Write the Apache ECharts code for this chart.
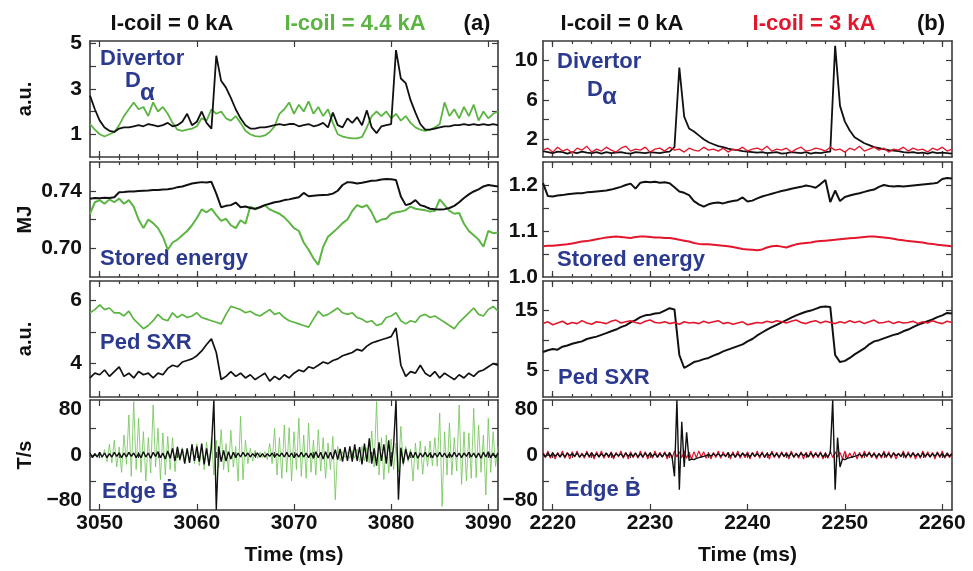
<!DOCTYPE html>
<html>
<head>
<meta charset="utf-8">
<title>I-coil ELM suppression</title>
<script src="https://cdn.jsdelivr.net/npm/echarts@6.0.0/dist/echarts.min.js"></script>
<style>
html, body { margin: 0; padding: 0; background: #fff; }
#chart { width: 973px; height: 571px; }
</style>
</head>
<body>
<div id="chart"></div>
<script>
var GREEN = '#5cb443', LIGHTGREEN = '#6fc454', RED = '#e3162c', BLACK = '#111111', BLUE = '#2b3a8f', FRAME = '#3a3a3a';
var FONT = 'Liberation Sans, Arial, sans-serif';

// sample grids (ms)
var leftStart = 3049, rightStart = 2219;
var coarse = 0.5, fine = 0.25;

// x axes
var leftRange = [3049, 3091], rightRange = [2219, 2261];
var leftTimeTicks = [3050, 3060, 3070, 3080, 3090];
var rightTimeTicks = [2220, 2230, 2240, 2250, 2260];
var leftMinorTicks = [3050, 3052, 3054, 3056, 3058, 3060, 3062, 3064, 3066, 3068, 3070,
  3072, 3074, 3076, 3078, 3080, 3082, 3084, 3086, 3088, 3090];
var rightMinorTicks = [2220, 2222, 2224, 2226, 2228, 2230, 2232, 2234, 2236, 2238, 2240,
  2242, 2244, 2246, 2248, 2250, 2252, 2254, 2256, 2258, 2260];

// y tick labels / ticks
var daLeftLabels = [1, 3, 5], daLeftTicks = [1, 2, 3, 4, 5];
var wLeftLabels = [0.70, 0.74], wLeftTicks = [0.70, 0.72, 0.74];
var sxrLeftLabels = [4, 6], sxrLeftTicks = [4, 5, 6];
var daRightLabels = [2, 6, 10], daRightTicks = [2, 4, 6, 8, 10];
var wRightLabels = [1.0, 1.1, 1.2], wRightTicks = [1.05, 1.1, 1.15, 1.2];
var sxrRightLabels = [5, 15], sxrRightTicks = [5, 10, 15];
var bdotLabelAt = [-68, 0, 68], bdotLabelText = ['\u221280', '0', '80'], bdotTicks = [-40, 0, 40];

// ---- shot (a), 0.5 ms samples from 3049 ms ----
var leftDaBlack = [
  2.7, 2.1, 1.6, 1.3, 1.15, 1.1, 1.25, 1.3, 1.3, 1.35,
  1.4, 1.35, 1.45, 1.4, 1.35, 1.4, 1.5, 1.35, 1.4, 1.55,
  1.9, 1.4, 1.55, 2.0, 1.5, 1.25, 4.45, 3.35, 3.05, 2.6,
  2.1, 1.7, 1.4, 1.25, 1.25, 1.3, 1.3, 1.35, 1.4, 1.45,
  1.4, 1.45, 1.45, 1.35, 1.4, 1.45, 1.35, 1.4, 1.5, 1.3,
  1.95, 1.4, 1.3, 1.7, 1.5, 1.75, 1.4, 2.05, 1.3, 1.05,
  1.35, 1.4, 1.45, 4.7, 3.45, 3.25, 2.5, 1.95, 1.45, 1.2,
  1.2, 1.25, 1.3, 1.35, 1.35, 1.4, 1.4, 1.45, 1.4, 1.45,
  1.4, 1.45, 1.4, 1.45, 1.4
];
var leftDaGreen = [
  1.45, 1.2, 1.0, 0.9, 1.0, 1.1, 1.4, 1.8, 2.1, 2.4,
  2.1, 2.2, 1.8, 2.4, 2.0, 2.2, 1.9, 1.5, 1.2, 1.15,
  1.2, 1.25, 1.35, 1.7, 1.6, 2.1, 1.9, 2.0, 1.7, 1.6,
  1.8, 1.5, 1.15, 1.0, 0.92, 0.9, 0.95, 1.1, 1.35, 1.9,
  2.1, 2.4, 1.9, 2.3, 2.0, 2.45, 1.9, 2.2, 1.8, 2.1,
  1.5, 1.0, 0.9, 0.85, 0.82, 0.82, 0.88, 1.3, 1.8, 2.0,
  1.8, 2.0, 1.7, 1.9, 1.6, 1.8, 1.5, 1.3, 1.2, 1.15,
  1.2, 1.3, 1.45, 2.4, 1.8, 2.1, 1.7, 2.2, 1.8, 2.3,
  1.6, 2.0, 1.7, 1.9, 2.0
];
var leftWBlack = [
  .7345, .7350, .7348, .7352, .7350, .7355, .7390, .7392, .7395, .7395,
  .7398, .7400, .7402, .7405, .7405, .7408, .7410, .7415, .7425, .7430,
  .7440, .7450, .7455, .7460, .7458, .7462, .7380, .7285, .7295, .7300,
  .7318, .7285, .7290, .7280, .7275, .7285, .7300, .7310, .7320, .7325,
  .7335, .7340, .7348, .7355, .7385, .7362, .7365, .7368, .7370, .7372,
  .7380, .7400, .7440, .7460, .7458, .7450, .7455, .7462, .7470, .7472,
  .7478, .7482, .7480, .7475, .7360, .7300, .7310, .7335, .7300, .7290,
  .7275, .7272, .7270, .7272, .7280, .7295, .7320, .7350, .7375, .7395,
  .7410, .7430, .7440, .7435, .7430
];
var leftWGreen = [
  .7240, .7320, .7335, .7310, .7340, .7320, .7345, .7310, .7335, .7290,
  .7200, .7140, .7200, .7175, .7140, .7080, .6990, .7040, .7060, .7090,
  .7120, .7160, .7210, .7270, .7250, .7275, .7230, .7190, .7205, .7160,
  .7140, .7195, .7170, .7290, .7270, .7285, .7300, .7270, .7255, .7240,
  .7215, .7180, .7140, .7120, .7040, .6990, .6930, .6885, .7010, .7080,
  .7110, .7140, .7175, .7200, .7260, .7300, .7285, .7300, .7250, .7180,
  .7200, .7205, .7240, .7250, .7255, .7265, .7290, .7275, .7270, .7265,
  .7255, .7260, .7340, .7300, .7260, .7240, .7245, .7170, .7120, .7090,
  .7060, .7010, .7120, .7105, .7110
];
var leftSxrBlack = [
  3.55, 3.7, 3.65, 3.8, 3.6, 3.75, 3.9, 3.6, 3.7, 3.55,
  3.75, 3.65, 3.7, 3.55, 3.7, 3.65, 3.85, 3.95, 3.9, 4.05,
  4.1, 4.15, 4.25, 4.4, 4.6, 4.78, 4.35, 3.5, 3.6, 3.75,
  3.6, 3.7, 3.55, 3.65, 3.5, 3.6, 3.7, 3.45, 3.6, 3.5,
  3.65, 3.55, 3.7, 3.8, 3.75, 3.9, 3.85, 3.95, 4.05, 4.0,
  4.1, 4.15, 4.25, 4.3, 4.35, 4.45, 4.4, 4.55, 4.65, 4.7,
  4.75, 4.8, 4.85, 5.12, 3.95, 3.6, 3.75, 3.7, 3.95, 3.7,
  3.6, 3.75, 3.55, 3.7, 3.6, 3.5, 3.65, 3.55, 3.7, 3.6,
  3.75, 3.8, 3.9, 4.0, 3.95
];
var leftSxrGreen = [
  5.6, 5.7, 5.85, 5.7, 5.75, 5.6, 5.6, 5.5, 5.65, 5.4,
  5.25, 5.1, 5.2, 5.35, 5.55, 5.4, 5.35, 5.6, 5.45, 5.55,
  5.45, 5.5, 5.6, 5.45, 5.4, 5.35, 5.3, 5.25, 5.55, 5.8,
  5.75, 5.7, 5.6, 5.65, 5.55, 5.5, 5.6, 5.7, 5.55, 5.6,
  5.45, 5.35, 5.3, 5.25, 5.2, 5.15, 5.4, 5.65, 5.5, 5.55,
  5.65, 5.75, 5.6, 5.55, 5.6, 5.45, 5.4, 5.3, 5.35, 5.2,
  5.25, 5.45, 5.5, 5.6, 5.35, 5.25, 5.35, 5.3, 5.5, 5.55,
  5.45, 5.5, 5.4, 5.3, 5.2, 5.1, 5.3, 5.45, 5.6, 5.75,
  5.55, 5.5, 5.7, 5.8, 5.65
];
// 0.25 ms samples from 3049 ms
var leftBdotBlack = [
  3, -4, 2, -3, 4, -3, 3, -4, 2, -3, 4, -2, 3, -4, 3, -3, 4, -2, 3, -4,
  2, -4, 5, -3, 3, -5, 4, -2, 5, -4, 3, -6, 6, -5, 10, -9, 12, -7, 9, -13,
  10, -12, 16, -9, 13, -10, 17, -14, 10, -16, 12, 82, -82, 13, -10, 7, -9, 5, -6, 4,
  -4, 3, -3, 4, -2, 3, -3, 2, -2, 3, -3, 2, -3, 2, -2, 3, -3, 2, -2, 3,
  -3, 4, -3, 3, -4, 2, -3, 4, -3, 3, -4, 3, -5, 5, -4, 4, -6, 5, -5, 4,
  -6, 8, -7, 9, -10, 12, -9, 13, -10, 16, -9, 12, -14, 17, -10, 25, -13, 10, -16, 19,
  -9, 16, -13, 22, -17, 13, 82, -67, 11, -13, 9, -7, 5, -4, 4, -5, 3, -3, 4, -3,
  3, -4, 3, -3, 4, -3, 3, -4, 2, -3, 4, -3, 3, -4, 3, -2, 4, -3, 3, -4,
  3, -5, 4, -3, 5, -4, 3, -4, 3
];
var leftBdotGreen = [
  2, -3, 3, -2, 4, -5, 8, -10, 16, -12, 22, -18, 12, -26, 30, -14, 60, -32, 80, -22,
  55, -26, 35, -39, 26, -27, 75, -18, 40, -37, 33, -30, 28, -22, 26, -25, 13, -9, 11, -7,
  9, -11, 16, -13, 17, -16, 13, -22, 19, -17, 26, -30, 22, -19, 38, -22, 17, -26, 37, -18,
  13, -39, 58, -37, 22, -13, 10, -9, 7, -5, 4, -4, 5, -7, 17, -13, 40, -30, 26, -35,
  45, -26, 41, -39, 35, -22, 55, -32, 30, -35, 48, -26, 22, -30, 38, -24, 26, -35, 18, -22,
  28, -67, 13, -9, 5, -4, 4, -5, 7, -5, 9, -10, 13, -9, 11, -12, 36, -18, 80, -30,
  26, -37, 30, -27, 24, -22, 18, -26, 43, -16, 13, -10, 9, -39, 18, -22, 21, -29, 13, -17,
  21, -16, 26, -17, 63, -77, 35, -30, 48, -30, 26, -24, 75, -44, 35, -39, 33, -35, 70, -34,
  45, -26, 30, -60, 55, -26, 35, -17, 13
];

// ---- shot (b), 0.5 ms samples from 2219 ms ----
var rightDaBlack = [
  0.8, 0.7, 0.6, 0.75, 0.7, 0.55, 0.7, 0.6, 0.75, 0.65,
  0.6, 0.7, 0.55, 0.7, 0.6, 0.65, 0.7, 0.6, 0.55, 0.7,
  0.65, 0.6, 0.7, 0.65, 0.6, 0.7, 0.75, 1.2, 9.3, 4.3,
  3.1, 2.8, 2.4, 2.0, 1.7, 1.5, 1.3, 1.2, 1.05, 0.95,
  0.9, 0.8, 0.75, 0.7, 0.65, 0.7, 0.6, 0.65, 0.7, 0.55,
  0.6, 0.7, 0.65, 0.6, 0.7, 0.55, 0.65, 0.6, 0.7, 0.75,
  11.5, 5.4, 3.8, 2.9, 2.2, 1.9, 1.6, 1.4, 1.2, 1.1,
  1.0, 0.9, 0.85, 0.8, 0.7, 0.65, 0.7, 0.6, 0.65, 0.55,
  0.7, 0.6, 0.65, 0.6, 0.55
];
var rightDaRed = [
  0.9, 1.1, 0.7, 1.2, 0.8, 1.0, 0.6, 1.1, 0.9, 1.3,
  0.7, 1.0, 0.8, 1.2, 0.9, 0.7, 1.1, 1.3, 0.8, 1.0,
  0.9, 1.2, 0.7, 1.0, 1.1, 0.8, 1.2, 0.9, 1.0, 0.7,
  1.1, 0.9, 0.8, 1.2, 0.9, 1.0, 0.8, 1.1, 0.7, 1.0,
  0.9, 1.2, 0.8, 1.0, 1.1, 0.9, 1.3, 0.8, 1.0, 0.9,
  1.1, 0.7, 1.0, 1.2, 0.8, 0.9, 1.1, 1.0, 0.8, 1.2,
  0.9, 1.0, 0.7, 1.1, 0.9, 1.3, 0.8, 1.0, 1.2, 0.9,
  1.1, 0.7, 1.0, 0.9, 1.2, 0.8, 1.1, 0.9, 1.0, 0.7,
  1.1, 0.9, 1.2, 0.8, 1.0
];
var rightWBlack = [
  1.204, 1.176, 1.175, 1.177, 1.178, 1.180, 1.181, 1.182, 1.182, 1.184,
  1.185, 1.186, 1.187, 1.188, 1.190, 1.193, 1.196, 1.200, 1.203, 1.192,
  1.205, 1.207, 1.206, 1.207, 1.205, 1.206, 1.204, 1.195, 1.186, 1.183,
  1.178, 1.165, 1.158, 1.153, 1.158, 1.161, 1.162, 1.160, 1.163, 1.165,
  1.167, 1.173, 1.164, 1.166, 1.171, 1.175, 1.178, 1.181, 1.184, 1.187,
  1.189, 1.192, 1.194, 1.196, 1.199, 1.197, 1.194, 1.202, 1.211, 1.163,
  1.188, 1.165, 1.174, 1.177, 1.180, 1.182, 1.185, 1.188, 1.190, 1.196,
  1.200, 1.198, 1.197, 1.198, 1.197, 1.198, 1.199, 1.200, 1.201, 1.202,
  1.203, 1.205, 1.213, 1.215, 1.214
];
var rightWRed = [
  1.067, 1.068, 1.068, 1.069, 1.070, 1.071, 1.073, 1.075, 1.077, 1.078,
  1.080, 1.082, 1.084, 1.086, 1.087, 1.088, 1.087, 1.086, 1.085, 1.087,
  1.088, 1.088, 1.087, 1.086, 1.086, 1.085, 1.085, 1.083, 1.081, 1.079,
  1.077, 1.074, 1.072, 1.071, 1.071, 1.070, 1.069, 1.068, 1.067, 1.065,
  1.063, 1.061, 1.060, 1.059, 1.058, 1.060, 1.064, 1.067, 1.068, 1.066,
  1.064, 1.068, 1.071, 1.073, 1.074, 1.075, 1.077, 1.078, 1.079, 1.080,
  1.081, 1.082, 1.083, 1.084, 1.085, 1.086, 1.087, 1.088, 1.088, 1.087,
  1.086, 1.085, 1.083, 1.081, 1.080, 1.078, 1.077, 1.076, 1.075, 1.073,
  1.072, 1.070, 1.069, 1.068, 1.067
];
var rightSxrBlack = [
  8.0, 8.3, 8.5, 8.4, 8.9, 9.1, 9.4, 9.6, 9.8, 10.2,
  10.4, 10.6, 10.9, 11.2, 11.5, 11.8, 12.2, 12.5, 13.0, 13.4,
  13.9, 14.2, 14.3, 14.5, 14.6, 15.0, 15.4, 15.2, 7.5, 5.3,
  5.8, 6.3, 6.5, 6.8, 7.0, 7.4, 7.7, 8.1, 8.4, 8.7,
  9.0, 9.3, 9.8, 10.2, 10.8, 11.3, 11.8, 12.2, 12.6, 13.0,
  13.4, 13.8, 14.2, 14.5, 14.8, 15.0, 15.3, 15.6, 15.7, 15.6,
  7.5, 6.3, 6.5, 7.0, 7.6, 8.1, 8.6, 9.3, 9.8, 10.0,
  10.3, 10.6, 10.9, 11.1, 11.5, 11.8, 12.2, 12.6, 12.9, 13.2,
  13.5, 13.9, 14.2, 14.6, 14.5
];
var rightSxrRed = [
  12.8, 13.1, 12.6, 12.9, 13.2, 12.7, 13.0, 12.8, 13.3, 12.9,
  12.7, 13.1, 13.0, 12.8, 13.2, 13.4, 12.9, 13.1, 13.3, 13.0,
  12.8, 13.2, 13.4, 13.0, 12.9, 13.1, 12.8, 13.0, 12.7, 13.1,
  12.9, 13.0, 12.8, 13.2, 12.9, 13.1, 13.3, 12.8, 13.0, 12.7,
  12.9, 13.1, 12.6, 12.8, 13.0, 12.9, 13.2, 13.0, 13.3, 13.1,
  12.9, 13.2, 13.4, 13.0, 12.8, 13.1, 13.3, 12.9, 13.2, 13.0,
  12.8, 13.1, 12.9, 13.3, 13.0, 13.2, 12.8, 13.1, 13.4, 12.9,
  13.0, 13.2, 12.8, 13.1, 12.9, 13.0, 13.2, 12.8, 13.1, 12.9,
  13.3, 13.0, 12.8, 13.2, 13.0
];
// 0.25 ms samples from 2219 ms
var rightBdotBlack = [
  2, -3, 3, -2, 3, -2, 2, -3, 2, -3, 3, -1, 2, -2, 3, -3, 1, -2, 3, -2,
  3, -2, 2, -3, 2, -2, 3, -2, 3, -3, 2, -1, 2, -3, 3, -2, 2, -2, 3, -3,
  2, -3, 3, -2, 3, -2, 2, -3, 2, -3, 3, -2, 3, -2, -32, 82, -52, 50, -18, 34,
  -8, -6, -7, -5, -4, -3, -2, -1, 1, -2, 2, -1, 2, -2, 1, -2, 3, -2, 2, -3,
  2, -2, 3, -1, 2, -3, 3, -2, 2, -2, 3, -3, 2, -1, 3, -2, 2, -3, 3, -2,
  2, -2, 3, -3, 2, -2, 3, -1, 2, -3, 3, -2, 2, -2, 3, -3, 2, -3, 3, 82,
  -52, 26, -18, -6, -7, -5, -4, -3, -2, -1, 1, -2, 2, -1, 3, -2, 2, -3, 2, -2,
  3, -2, 2, -3, 3, -1, 2, -2, 3, -3, 2, -2, 3, -2, 2, -3, 3, -2, 2, -3,
  2, -2, 3, -2, 2, -3, 3, -2, 2
];
var rightBdotRed = [
  5, -4, 6, -5, 3, -6, 4, -3, 6, -5, 4, -6, 5, -3, 6, -4, 3, -5, 6, -4,
  4, -6, 5, -3, 6, -5, 3, -4, 5, -6, 4, -3, 6, -5, 4, -6, 5, -4, 3, -5,
  6, -4, 5, -6, 3, -5, 6, -4, 4, -3, 5, -6, 4, -5, 6, -3, 5, -4, 6, -5,
  4, -6, 5, -4, 6, -3, 5, -5, 3, -6, 4, -4, 6, -5, 5, -3, 4, -6, 5, -4,
  6, -5, 3, -4, 5, -6, 4, -3, 6, -5, 5, -4, 3, -6, 6, -4, 4, -5, 5, -3,
  4, -6, 6, -4, 3, -5, 5, -6, 4, -3, 6, -5, 4, -4, 5, -6, 3, -5, 6, -4,
  5, -3, 4, -6, 6, -5, 3, -4, 5, -6, 4, -5, 6, -3, 5, -4, 4, -6, 3, -5,
  6, -4, 5, -5, 4, -6, 3, -3, 6, -5, 5, -4, 4, -6, 3, -5, 6, -4, 5, -3,
  4, -6, 5, -4, 6, -5, 3, -4, 5
];

function pairs(t0, step, vals) {
  return vals.map(function (v, i) { return [t0 + i * step, v]; });
}
function line(t0, step, vals, color, width) {
  return { data: pairs(t0, step, vals), color: color, width: width };
}

var cols = [
  { left: 90, width: 408, range: leftRange, ticks: leftTimeTicks, minor: leftMinorTicks, labelMargin: 8 },
  { left: 543, width: 409, range: rightRange, ticks: rightTimeTicks, minor: rightMinorTicks, labelMargin: 5 }
];
var rows = [
  { top: 41, height: 116 },
  { top: 162, height: 115 },
  { top: 281, height: 116 },
  { top: 400, height: 110 }
];

var panels = [
  { col: 0, row: 0, y: [0, 5.1], labels: daLeftLabels, ticks: daLeftTicks, unit: 'a.u.', lines: [
      line(leftStart, coarse, leftDaGreen, GREEN, 1.8), line(leftStart, coarse, leftDaBlack, BLACK, 1.8)] },
  { col: 0, row: 1, y: [0.68, 0.76], labels: wLeftLabels, ticks: wLeftTicks, digits: 2, unit: 'MJ', lines: [
      line(leftStart, coarse, leftWGreen, GREEN, 2), line(leftStart, coarse, leftWBlack, BLACK, 2)] },
  { col: 0, row: 2, y: [2.95, 6.6], labels: sxrLeftLabels, ticks: sxrLeftTicks, unit: 'a.u.', lines: [
      line(leftStart, coarse, leftSxrGreen, GREEN, 1.7), line(leftStart, coarse, leftSxrBlack, BLACK, 1.7)] },
  { col: 0, row: 3, y: [-82.5, 82.5], labels: bdotLabelAt, text: bdotLabelText, ticks: bdotTicks, unit: 'T/s', lines: [
      line(leftStart, fine, leftBdotGreen, LIGHTGREEN, 0.8), line(leftStart, fine, leftBdotBlack, BLACK, 1.4)] },
  { col: 1, row: 0, y: [0.2, 12], labels: daRightLabels, ticks: daRightTicks, lines: [
      line(rightStart, coarse, rightDaBlack, BLACK, 1.8), line(rightStart, coarse, rightDaRed, RED, 1.3)] },
  { col: 1, row: 1, y: [1.0, 1.25], labels: wRightLabels, ticks: wRightTicks, digits: 1, lines: [
      line(rightStart, coarse, rightWBlack, BLACK, 2), line(rightStart, coarse, rightWRed, RED, 2)] },
  { col: 1, row: 2, y: [0.4, 20], labels: sxrRightLabels, ticks: sxrRightTicks, lines: [
      line(rightStart, coarse, rightSxrBlack, BLACK, 2), line(rightStart, coarse, rightSxrRed, RED, 1.6)] },
  { col: 1, row: 3, y: [-82.5, 82.5], labels: bdotLabelAt, text: bdotLabelText, ticks: bdotTicks, lines: [
      line(rightStart, fine, rightBdotRed, RED, 1.2), line(rightStart, fine, rightBdotBlack, BLACK, 1.4)] }
];

var frameLine = { show: true, onZero: false, lineStyle: { color: FRAME, width: 1.6 } };
var tickFont = { fontSize: 21, fontWeight: 'bold', color: BLACK, fontFamily: FONT };

var grids = [], xAxes = [], yAxes = [], series = [];

panels.forEach(function (p, k) {
  var c = cols[p.col], r = rows[p.row];
  var bottomRow = p.row === 3;
  grids.push({ left: c.left, top: r.top, width: c.width, height: r.height, outerBoundsMode: 'none' });

  function xAxis(pos, major) {
    var ax = {
      type: 'value', gridIndex: k, position: pos, min: c.range[0], max: c.range[1],
      splitLine: { show: false },
      axisLine: major ? frameLine : { show: false },
      axisTick: { show: true, inside: true, length: major ? 6 : 3,
        customValues: major ? c.ticks : c.minor, lineStyle: { color: FRAME, width: 1.2 } },
      axisLabel: { show: false }
    };
    if (major && pos === 'bottom' && bottomRow) {
      ax.axisLabel = Object.assign({ show: true, margin: 3, customValues: c.ticks,
        formatter: function (v) { return String(v); } }, tickFont);
      ax.name = 'Time (ms)';
      ax.nameLocation = 'middle';
      ax.nameGap = 35;
      ax.nameMoveOverlap = false;
      ax.nameTextStyle = { fontSize: 21, fontWeight: 'bold', color: BLACK, fontFamily: FONT };
    }
    return ax;
  }
  xAxes.push(xAxis('bottom', true), xAxis('bottom', false), xAxis('top', true), xAxis('top', false));

  function fmt(v) {
    for (var i = 0; i < p.labels.length; i++) {
      if (Math.abs(p.labels[i] - v) < 1e-9) {
        if (p.text) return p.text[i];
        return p.digits ? v.toFixed(p.digits) : String(v);
      }
    }
    return '';
  }
  function yAxis(pos) {
    var left = pos === 'left';
    var ax = {
      type: 'value', gridIndex: k, position: pos, min: p.y[0], max: p.y[1],
      splitLine: { show: false },
      axisLine: frameLine,
      axisTick: { show: true, inside: true, length: 6, customValues: p.ticks,
        lineStyle: { color: FRAME, width: 1.2 } },
      axisLabel: left ? Object.assign({ show: true, margin: c.labelMargin, customValues: p.labels,
        formatter: fmt }, tickFont) : { show: false }
    };
    if (left && p.unit) {
      ax.name = p.unit;
      ax.nameLocation = 'middle';
      ax.nameRotate = 90;
      ax.nameGap = 55;
      ax.nameMoveOverlap = false;
      ax.nameTextStyle = { fontSize: 20, fontWeight: 'bold', color: BLACK, fontFamily: FONT };
    }
    return ax;
  }
  yAxes.push(yAxis('left'), yAxis('right'));

  p.lines.forEach(function (l) {
    series.push({
      type: 'line', xAxisIndex: k * 4, yAxisIndex: k * 2, data: l.data,
      showSymbol: false, symbol: 'none', silent: true, clip: true,
      lineStyle: { color: l.color, width: l.width }, itemStyle: { color: l.color }
    });
  });
});

function txt(text, x, y, color, size, align) {
  return {
    type: 'text', x: x, y: y, silent: true,
    style: { text: text, fill: color, fontSize: size, fontWeight: 'bold', fontFamily: FONT,
      textAlign: align, align: align, textVerticalAlign: 'middle', verticalAlign: 'middle' }
  };
}

var graphics = [
  txt('I-coil = 0 kA', 172, 24, BLACK, 22, 'center'),
  txt('I-coil = 4.4 kA', 355, 24, GREEN, 22, 'center'),
  txt('(a)', 477, 24, BLACK, 22, 'center'),
  txt('I-coil = 0 kA', 622, 24, BLACK, 22, 'center'),
  txt('I-coil = 3 kA', 814, 24, RED, 22, 'center'),
  txt('(b)', 931, 24, BLACK, 22, 'center'),
  txt('Divertor', 100, 59, BLUE, 22, 'left'),
  txt('D', 125, 81, BLUE, 22, 'left'),
  txt('\u03b1', 140, 93, BLUE, 24, 'left'),
  txt('Stored energy', 100, 259, BLUE, 22, 'left'),
  txt('Ped SXR', 100, 343, BLUE, 22, 'left'),
  txt('Edge \u1e02', 102, 492, BLUE, 22, 'left'),
  txt('Divertor', 557, 62, BLUE, 22, 'left'),
  txt('D', 587, 90, BLUE, 22, 'left'),
  txt('\u03b1', 602, 97, BLUE, 24, 'left'),
  txt('Stored energy', 557, 260, BLUE, 22, 'left'),
  txt('Ped SXR', 558, 378, BLUE, 22, 'left'),
  txt('Edge \u1e02', 565, 490, BLUE, 22, 'left')
];

var chart = echarts.init(document.getElementById('chart'), null, { renderer: 'canvas' });
chart.setOption({
  animation: false,
  backgroundColor: '#ffffff',
  textStyle: { fontFamily: FONT },
  grid: grids,
  xAxis: xAxes,
  yAxis: yAxes,
  series: series,
  graphic: graphics
});
</script>
</body>
</html>
